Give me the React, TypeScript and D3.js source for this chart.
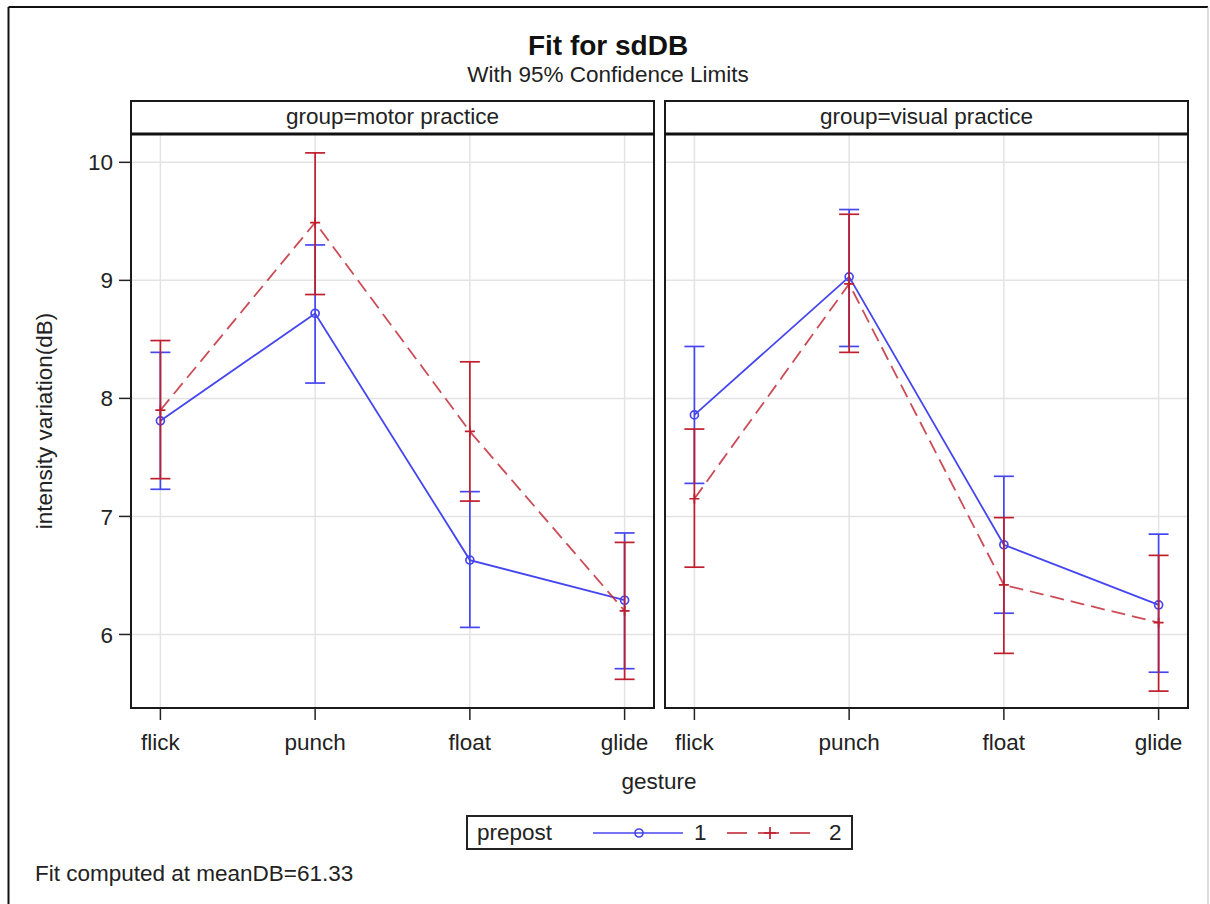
import React from "react";
import * as d3 from "d3";

const gestures = ["flick", "punch", "float", "glide"];
const groups = ["motor practice", "visual practice"];
const yTicks = [6, 7, 8, 9, 10];

const motor1Est = [7.81, 8.72, 6.63, 6.29];
const motor1Lo = [7.23, 8.13, 6.06, 5.71];
const motor1Hi = [8.39, 9.3, 7.21, 6.86];
const motor2Est = [7.9, 9.49, 7.72, 6.2];
const motor2Lo = [7.32, 8.88, 7.13, 5.62];
const motor2Hi = [8.49, 10.08, 8.31, 6.78];

const visual1Est = [7.86, 9.03, 6.76, 6.25];
const visual1Lo = [7.28, 8.44, 6.18, 5.68];
const visual1Hi = [8.44, 9.6, 7.34, 6.85];
const visual2Est = [7.15, 8.97, 6.42, 6.1];
const visual2Lo = [6.57, 8.39, 5.84, 5.52];
const visual2Hi = [7.74, 9.56, 6.99, 6.67];

const BLUE = "#4646f0";
const RED = "#bf1e2d";
const FONT = "'Liberation Sans', Arial, sans-serif";

type Series = { est: number[]; lo: number[]; hi: number[]; color: string; dashed: boolean; marker: "circle" | "plus" };

const panels: { name: string; x0: number; x1: number; series: Series[] }[] = [
  {
    name: groups[0],
    x0: 131,
    x1: 654,
    series: [
      { est: motor1Est, lo: motor1Lo, hi: motor1Hi, color: BLUE, dashed: false, marker: "circle" },
      { est: motor2Est, lo: motor2Lo, hi: motor2Hi, color: RED, dashed: true, marker: "plus" },
    ],
  },
  {
    name: groups[1],
    x0: 665,
    x1: 1188,
    series: [
      { est: visual1Est, lo: visual1Lo, hi: visual1Hi, color: BLUE, dashed: false, marker: "circle" },
      { est: visual2Est, lo: visual2Lo, hi: visual2Hi, color: RED, dashed: true, marker: "plus" },
    ],
  },
];

const headerTop = 101;
const plotTop = 134;
const plotBottom = 708;

const y = d3.scaleLinear().domain([5.377, 10.24]).range([plotBottom, plotTop]);

function Panel({ p }: { p: (typeof panels)[number] }) {
  const x = d3.scalePoint<string>().domain(gestures).range([p.x0, p.x1]).padding(0.19);
  const line = d3
    .line<number>()
    .x((_, i) => x(gestures[i]) as number)
    .y((v) => y(v));
  const cx = (p.x0 + p.x1) / 2;
  return (
    <g>
      {yTicks.map((t) => (
        <line key={"gy" + t} x1={p.x0} x2={p.x1} y1={y(t)} y2={y(t)} stroke="#e3e3e3" strokeWidth={1.5} />
      ))}
      {gestures.map((g) => (
        <line key={"gx" + g} x1={x(g)} x2={x(g)} y1={plotTop} y2={plotBottom} stroke="#e3e3e3" strokeWidth={1.5} />
      ))}
      {p.series.map((s, si) => (
        <path
          key={"l" + si}
          d={line(s.est) as string}
          fill="none"
          stroke={s.color}
          strokeWidth={1.8}
          strokeOpacity={s.dashed ? 0.8 : 1}
          strokeDasharray={s.dashed ? "14 7" : undefined}
        />
      ))}
      {p.series.map((s, si) => (
        <g key={"e" + si} stroke={s.color} strokeWidth={1.7} fill="none">
          {gestures.map((g, i) => {
            const gx = x(g) as number;
            return (
              <g key={g}>
                <line x1={gx} x2={gx} y1={y(s.lo[i])} y2={y(s.hi[i])} />
                <line x1={gx - 10} x2={gx + 10} y1={y(s.lo[i])} y2={y(s.lo[i])} />
                <line x1={gx - 10} x2={gx + 10} y1={y(s.hi[i])} y2={y(s.hi[i])} />
                {s.marker === "circle" ? (
                  <circle cx={gx} cy={y(s.est[i])} r={4} />
                ) : (
                  <path d={`M${gx - 5},${y(s.est[i])}H${gx + 5}M${gx},${y(s.est[i]) - 5}V${y(s.est[i]) + 5}`} />
                )}
              </g>
            );
          })}
        </g>
      ))}
      <rect x={p.x0} y={headerTop} width={p.x1 - p.x0} height={plotBottom - headerTop} fill="none" stroke="#1a1a1a" strokeWidth={2} />
      <line x1={p.x0} x2={p.x1} y1={plotTop} y2={plotTop} stroke="#111" strokeWidth={3} />
      <text x={cx} y={124} textAnchor="middle" fontFamily={FONT} fontSize={22.5} fill="#222">
        group={p.name}
      </text>
      {gestures.map((g) => (
        <g key={"xt" + g}>
          <line x1={x(g)} x2={x(g)} y1={plotBottom} y2={plotBottom + 12} stroke="#222" strokeWidth={1.5} />
          <text x={x(g)} y={750} textAnchor="middle" fontFamily={FONT} fontSize={22.5} fill="#222">
            {g}
          </text>
        </g>
      ))}
    </g>
  );
}

export default function App() {
  const p0 = panels[0];
  return (
    <svg width={1210} height={904} style={{ position: "absolute", left: 0, top: 0, background: "#fff" }}>
      <rect x={0} y={0} width={1210} height={904} fill="#fff" />
      <line x1={8.5} x2={1208} y1={7} y2={7} stroke="#111" strokeWidth={2} />
      <line x1={8.5} x2={8.5} y1={7} y2={904} stroke="#111" strokeWidth={2} />
      <line x1={1208} x2={1208} y1={7} y2={904} stroke="#bbb" strokeWidth={1} />

      <text x={608} y={55} textAnchor="middle" fontFamily={FONT} fontSize={28} fontWeight="bold" fill="#111">
        Fit for sdDB
      </text>
      <text x={608} y={82} textAnchor="middle" fontFamily={FONT} fontSize={22.5} fill="#222">
        With 95% Confidence Limits
      </text>

      {panels.map((p) => (
        <Panel key={p.name} p={p} />
      ))}

      {yTicks.map((t) => (
        <g key={"yt" + t}>
          <line x1={p0.x0 - 12} x2={p0.x0} y1={y(t)} y2={y(t)} stroke="#222" strokeWidth={1.5} />
          <text x={p0.x0 - 18} y={y(t)} dy="0.36em" textAnchor="end" fontFamily={FONT} fontSize={22.5} fill="#222">
            {t}
          </text>
        </g>
      ))}
      <text
        transform={`translate(52,${(plotTop + plotBottom) / 2}) rotate(-90)`}
        textAnchor="middle"
        fontFamily={FONT}
        fontSize={22.5}
        fill="#222"
      >
        intensity variation(dB)
      </text>
      <text x={659} y={789} textAnchor="middle" fontFamily={FONT} fontSize={22.5} fill="#222">
        gesture
      </text>

      <rect x={467} y={816} width={385} height={33} fill="#fff" stroke="#222" strokeWidth={2} />
      <text x={477} y={840} fontFamily={FONT} fontSize={22.5} fill="#222">
        prepost
      </text>
      <line x1={593} x2={683} y1={833} y2={833} stroke={BLUE} strokeWidth={1.7} />
      <circle cx={639} cy={833} r={4} fill="none" stroke={BLUE} strokeWidth={1.7} />
      <text x={694} y={840} fontFamily={FONT} fontSize={22.5} fill="#222">
        1
      </text>
      <line x1={727} x2={810} y1={833} y2={833} stroke={RED} strokeWidth={1.7} strokeDasharray="20 11 21 11 20" />
      <path d="M764,833H776M770,827V839" stroke={RED} strokeWidth={1.7} fill="none" />
      <text x={829} y={840} fontFamily={FONT} fontSize={22.5} fill="#222">
        2
      </text>

      <text x={35} y={881} fontFamily={FONT} fontSize={22.5} fill="#222">
        Fit computed at meanDB=61.33
      </text>
    </svg>
  );
}
